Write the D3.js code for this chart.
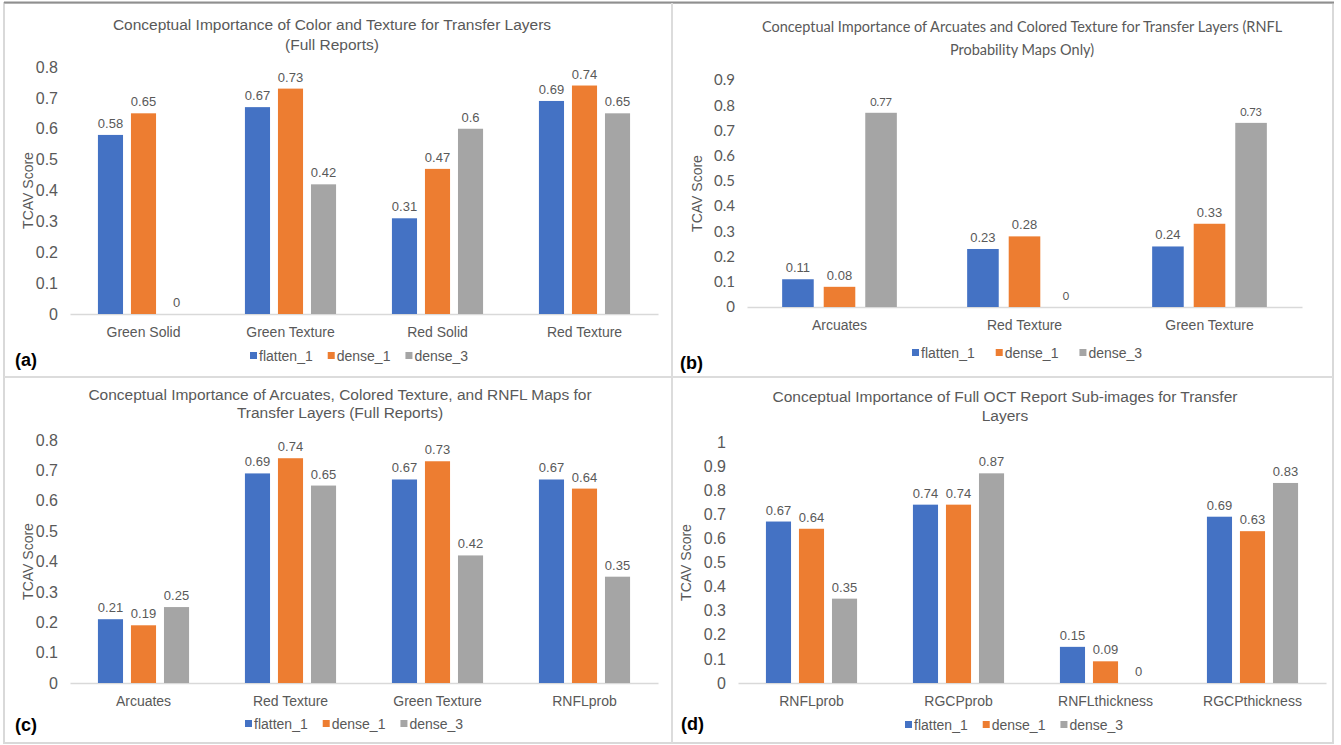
<!DOCTYPE html>
<html lang="en">
<head>
    <meta charset="UTF-8">
    <title>TCAV Scores for Transfer Layers</title>
    <script src="https://d3js.org/d3.v7.min.js"></script>
    <style>
        body { margin: 0; background: #fff; }
        svg { display: block; }
        text { font-family: "Liberation Sans", Arial, sans-serif; fill: #595959; }
    </style>
</head>
<body>
    <div id="chart"></div>
    <script>
        // series (same three layers in every panel)
        const series = ["flatten_1", "dense_1", "dense_3"];
        const colors = ["#4472C4", "#ED7D31", "#A5A5A5"];

        // (a)
        const titleA = ["Conceptual Importance of Color and Texture for Transfer Layers", "(Full Reports)"];
        const catsA = ["Green Solid", "Green Texture", "Red Solid", "Red Texture"];
        const flattenA = [0.58, 0.67, 0.31, 0.69];
        const dense1A = [0.65, 0.73, 0.47, 0.74];
        const dense3A = [0, 0.42, 0.6, 0.65];
        const ticksA = [0, 0.1, 0.2, 0.3, 0.4, 0.5, 0.6, 0.7, 0.8];

        // (b)
        const titleB = ["Conceptual Importance of Arcuates and Colored Texture for Transfer Layers (RNFL", "Probability Maps Only)"];
        const catsB = ["Arcuates", "Red Texture", "Green Texture"];
        const flattenB = [0.11, 0.23, 0.24];
        const dense1B = [0.08, 0.28, 0.33];
        const dense3B = [0.77, 0, 0.73];
        const ticksB = [0, 0.1, 0.2, 0.3, 0.4, 0.5, 0.6, 0.7, 0.8, 0.9];

        // (c)
        const titleC = ["Conceptual Importance of Arcuates, Colored Texture, and RNFL Maps for", "Transfer Layers (Full Reports)"];
        const catsC = ["Arcuates", "Red Texture", "Green Texture", "RNFLprob"];
        const flattenC = [0.21, 0.69, 0.67, 0.67];
        const dense1C = [0.19, 0.74, 0.73, 0.64];
        const dense3C = [0.25, 0.65, 0.42, 0.35];
        const ticksC = [0, 0.1, 0.2, 0.3, 0.4, 0.5, 0.6, 0.7, 0.8];

        // (d)
        const titleD = ["Conceptual Importance of Full OCT Report Sub-images for Transfer", "Layers"];
        const catsD = ["RNFLprob", "RGCPprob", "RNFLthickness", "RGCPthickness"];
        const flattenD = [0.67, 0.74, 0.15, 0.69];
        const dense1D = [0.64, 0.74, 0.09, 0.63];
        const dense3D = [0.35, 0.87, 0, 0.83];
        const ticksD = [0, 0.1, 0.2, 0.3, 0.4, 0.5, 0.6, 0.7, 0.8, 0.9, 1];

        const yLabel = "TCAV Score";
        const w = 1341;
        const h = 745;

        // panel layouts
        const panels = [
            { tag: "(a)", title: titleA, cats: catsA, vals: [flattenA, dense1A, dense3A], ticks: ticksA,
              left: 70, right: 658, base: 314, top: 67, titleX: 332, titleY: [30, 50], yLabX: 28,
              legX: 250, legY: 361, legGap: 15, tagX: 15, tagY: 366, calibri: false },
            { tag: "(b)", title: titleB, cats: catsB, vals: [flattenB, dense1B, dense3B], ticks: ticksB,
              left: 747, right: 1302, base: 307, top: 80, titleX: 1022, titleY: [32, 55], yLabX: 697,
              legX: 912, legY: 358, legGap: 21, tagX: 680, tagY: 369, calibri: true },
            { tag: "(c)", title: titleC, cats: catsC, vals: [flattenC, dense1C, dense3C], ticks: ticksC,
              left: 70, right: 658, base: 683, top: 440, titleX: 340, titleY: [400, 418], yLabX: 28,
              legX: 245, legY: 729, legGap: 15, tagX: 15, tagY: 731, calibri: false },
            { tag: "(d)", title: titleD, cats: catsD, vals: [flattenD, dense1D, dense3D], ticks: ticksD,
              left: 738, right: 1326, base: 683, top: 442, titleX: 1005, titleY: [402, 421], yLabX: 686,
              legX: 905, legY: 730, legGap: 15, tagX: 681, tagY: 730, calibri: false }
        ];

        const fmt = (d) => String(+d.toFixed(2));

        const svg = d3.select("#chart")
                      .append("svg")
                      .attr("width", w)
                      .attr("height", h);

        //frame
        const frame = svg.append("g").attr("fill", "none");
        frame.append("rect").attr("x", 4).attr("y", 3).attr("width", 1329).attr("height", 740)
             .attr("stroke", "#d9d9d9").attr("stroke-width", 2);
        frame.append("line").attr("x1", 4).attr("x2", 1334).attr("y1", 2.5).attr("y2", 2.5)
             .attr("stroke", "#8f8f8f").attr("stroke-width", 2);
        frame.append("line").attr("x1", 672).attr("x2", 672).attr("y1", 3).attr("y2", 743)
             .attr("stroke", "#dcdcdc").attr("stroke-width", 2);
        frame.append("line").attr("x1", 4).attr("x2", 1333).attr("y1", 377).attr("y2", 377)
             .attr("stroke", "#dcdcdc").attr("stroke-width", 2);

        panels.forEach(drawPanel);

        function drawPanel(p) {
            const g = svg.append("g");
            const yMax = p.ticks[p.ticks.length - 1];

            //scales
            const x0 = d3.scaleBand()
                         .domain(p.cats)
                         .range([p.left, p.right])
                         .paddingInner(0.38)
                         .paddingOuter(0.19);
            const x1 = d3.scaleBand()
                         .domain(series)
                         .range([0, x0.bandwidth()])
                         .paddingInner(0.24);
            const y = d3.scaleLinear()
                        .domain([0, yMax])
                        .range([p.base, p.top]);

            const rows = [];
            p.cats.forEach((c, i) => series.forEach((s, j) => rows.push({ cat: c, s: s, j: j, v: p.vals[j][i] })));

            //title
            g.append("text")
             .attr("text-anchor", "middle")
             .style("font-size", p.calibri ? "14.5px" : "15.5px")
             .style("font-family", p.calibri ? "Lato, sans-serif" : null)
             .selectAll("tspan")
             .data(p.title)
             .enter()
             .append("tspan")
             .attr("x", p.titleX)
             .attr("y", (d, i) => p.titleY[i])
             .text(d => d);

            //axes
            const yAxis = g.append("g")
                           .attr("transform", "translate(" + p.left + ",0)")
                           .call(d3.axisLeft(y).tickValues(p.ticks).tickSize(0).tickPadding(12).tickFormat(fmt));
            yAxis.select(".domain").remove();
            yAxis.selectAll("text")
                 .style("font-size", p.calibri ? "15px" : "16px")
                 .style("font-family", p.calibri ? "Lato, sans-serif" : "'Liberation Sans', Arial, sans-serif")
                 .attr("fill", "#595959");

            const xAxis = g.append("g")
                           .attr("transform", "translate(0," + p.base + ")")
                           .call(d3.axisBottom(x0).tickSize(0).tickPadding(13));
            xAxis.select(".domain").attr("stroke", "#d9d9d9").attr("stroke-width", 1.5);
            xAxis.selectAll("text")
                 .style("font-size", "14px")
                 .style("font-family", "'Liberation Sans', Arial, sans-serif")
                 .attr("fill", "#595959");

            g.append("text")
             .text(yLabel)
             .attr("transform", "translate(" + p.yLabX + "," + ((p.base + p.top) / 2) + ") rotate(-90)")
             .attr("text-anchor", "middle")
             .attr("dy", "0.35em")
             .style("font-size", "14px");

            //bars
            g.selectAll("rect.bar")
             .data(rows)
             .enter()
             .append("rect")
             .attr("class", "bar")
             .attr("x", d => x0(d.cat) + x1(d.s))
             .attr("y", d => y(d.v))
             .attr("width", x1.bandwidth())
             .attr("height", d => p.base - y(d.v))
             .attr("fill", d => colors[d.j]);

            //value labels
            g.selectAll("text.val")
             .data(rows)
             .enter()
             .append("text")
             .attr("class", "val")
             .attr("x", d => x0(d.cat) + x1(d.s) + x1.bandwidth() / 2)
             .attr("y", d => y(d.v) - 7)
             .attr("text-anchor", "middle")
             .style("font-size", d => (p.calibri && d.j === 2) ? "11px" : "13px")
             .style("font-family", d => (p.calibri && d.j === 2) ? "Lato, sans-serif" : null)
             .text(d => fmt(d.v));

            //legend
            let lx = p.legX;
            series.forEach((s, j) => {
                g.append("rect")
                 .attr("x", lx)
                 .attr("y", p.legY - 9)
                 .attr("width", 7)
                 .attr("height", 7)
                 .attr("fill", colors[j]);
                const t = g.append("text")
                           .attr("x", lx + 9)
                           .attr("y", p.legY)
                           .style("font-size", "14px")
                           .text(s);
                lx += 9 + t.node().getComputedTextLength() + p.legGap;
            });

            //panel tag
            g.append("text")
             .text(p.tag)
             .attr("x", p.tagX)
             .attr("y", p.tagY)
             .style("font-size", "18px")
             .style("font-weight", "bold")
             .style("fill", "#000");
        }
    </script>
</body>
</html>
